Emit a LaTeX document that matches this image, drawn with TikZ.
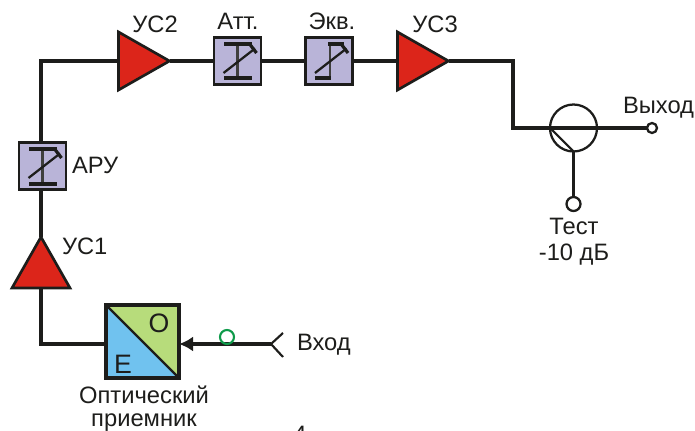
\documentclass[tikz,border=0pt]{standalone}
\usepackage{fontspec}
\setmainfont{Liberation Sans}
\usetikzlibrary{shapes.geometric,arrows.meta}
\definecolor{ampred}{HTML}{DC251A}
\definecolor{lav}{HTML}{B9B4D8}
\definecolor{ogreen}{HTML}{B7DC7B}
\definecolor{oblue}{HTML}{70C2EF}
\definecolor{ink}{HTML}{1D1D1B}
\definecolor{ringgreen}{HTML}{0E9A4A}
\tikzset{
  x=0.75pt,y=-0.75pt,
  wire/.style={draw=ink,line width=2.3pt},
  amp/.style={isosceles triangle,isosceles triangle stretches,draw=ink,fill=ampred,line width=2pt,
     inner sep=0pt,outer sep=0pt,minimum width=58*0.75pt,minimum height=51*0.75pt,anchor=lower side},
  ctl/.style={rectangle,draw=ink,fill=lav,line width=2.2pt,inner sep=0pt,outer sep=0pt,minimum size=47*0.75pt},
  lbl/.style={font=\fontsize{17.8pt}{20pt}\selectfont,text=ink,inner sep=0pt,outer sep=0pt,anchor=base},
  lbll/.style={lbl,anchor=base west},
  big/.style={lbl,font=\fontsize{20pt}{22pt}\selectfont},
  port/.style={circle,draw=ink,fill=white,inner sep=0pt,outer sep=0pt},
  attpic/.pic={
    \draw[line width=1.6pt,draw=ink!85] (0,-17)--(0,17);
    \fill[ink] (-13.5,-18.8) rectangle (14.5,-15.2);
    \fill[ink] (-13.5,15.5) rectangle (14.5,19.5);
    \draw[ink,line width=1.7pt] (-14,12)--(17.5,-12.5);
    \draw[ink,line width=2.4pt] (12.5,-16.5)--(19,-8);
  },
  eqpic/.pic={
    \draw[line width=1.6pt,draw=ink!85] (1,-17)--(1,17);
    \fill[ink] (-1,-18.8) rectangle (15,-15.2);
    \fill[ink] (-14,15.5) rectangle (1.5,19.5);
    \draw[ink,line width=1.7pt] (-14,12)--(17.5,-12.5);
    \draw[ink,line width=2.4pt] (12.5,-16.5)--(19,-8);
  }
}
\begin{document}
\begin{tikzpicture}
\useasboundingbox (0,0) rectangle (695,431);
\clip (0,0) rectangle (695,431);
% blocks
\node[amp,shape border rotate=90] (us1) at (41,288) {};
\node[ctl] (aru) at (42.5,166) {};
\node[amp] (us2) at (118.5,61) {};
\node[ctl] (att) at (237.5,61) {};
\node[ctl] (ekv) at (329,61) {};
\node[amp] (us3) at (397.5,61) {};
\node[circle,draw=ink,line width=1.7pt,inner sep=0pt,outer sep=0pt,minimum size=47*0.75pt] (cpl) at (573.5,128) {};
\node[port,line width=1.7pt,minimum size=10*0.75pt] (out) at (652,128) {};
\node[port,line width=1.7pt,minimum size=14*0.75pt] (test) at (573.5,204) {};
\node[rectangle,inner sep=0pt,outer sep=0pt,minimum size=73*0.75pt] (oe) at (142.5,341.5) {};
\coordinate (in) at (271,344);
\coordinate (c1) at (41,61);
\coordinate (c2) at (41,344);
\coordinate (c3) at (513,61);
\coordinate (c4) at (513,128);
% wires
\draw[wire] (us1.apex) -- (aru.south -| us1.apex);
\draw[wire] (aru.north -| c1) -- (c1) -- (us2.lower side);
\draw[wire] (us2.apex) -- (att.west);
\draw[wire] (att.east) -- (ekv.west);
\draw[wire] (ekv.east) -- (us3.lower side);
\draw[wire] (us3.apex) -- (c3) -- (c4) -- (out.west);
\draw[wire] (cpl.south) -- (test.north);
\draw[wire] (us1.lower side) -- (c2) -- (oe.west |- c2);
% coupler tap
\draw[ink,line width=1.6pt] (cpl.west) -- (cpl.south);
% photodetector
\fill[oblue] (oe.north west) -- (oe.south east) -- (oe.south west) -- cycle;
\fill[ogreen] (oe.north west) -- (oe.north east) -- (oe.south east) -- cycle;
\draw[ink,line width=2.3pt] (oe.north west) rectangle (oe.south east);
\draw[ink,line width=1.7pt] (oe.north west) -- (oe.south east);
% input
\draw[wire,-{Latex[length=14*0.75pt,width=15*0.75pt]}] (in) -- (oe.east |- in);
\draw[ink,line width=1.6pt] (283,333) -- (in) -- (283,357);
\node[circle,draw=ringgreen,line width=1.6pt,inner sep=0pt,outer sep=0pt,minimum size=14*0.75pt] (ring) at (227,337) {};
% control symbols
\path (att.center) pic {attpic};
\path (aru.center) pic {attpic};
\path (ekv.center) pic {eqpic};
% labels
\node[lbl] (t1) at (155,33) {УС2};
\node[lbl] (t2) at (238,30) {Атт.};
\node[lbl] (t3) at (332,30) {Экв.};
\node[lbl] (t4) at (435,33) {УС3};
\node[lbll] (t5) at (72,173) {АРУ};
\node[lbll] (t6) at (62,254) {УС1};
\node[lbll] (t7) at (297,350) {Вход};
\node[big] (t8) at (159,332) {О};
\node[big] (t9) at (123,373) {Е};
\node[lbl] (t10) at (144,403) {Оптический};
\node[lbl] (t11) at (144,426) {приемник};
\node[lbll] (t12) at (623,114) {Выход};
\node[lbl] (t13) at (574,234) {Тест};
\node[lbl] (t14) at (574,260) {-10 дБ};
\node[lbl] (t15) at (300,442) {4};
\end{tikzpicture}
\end{document}
